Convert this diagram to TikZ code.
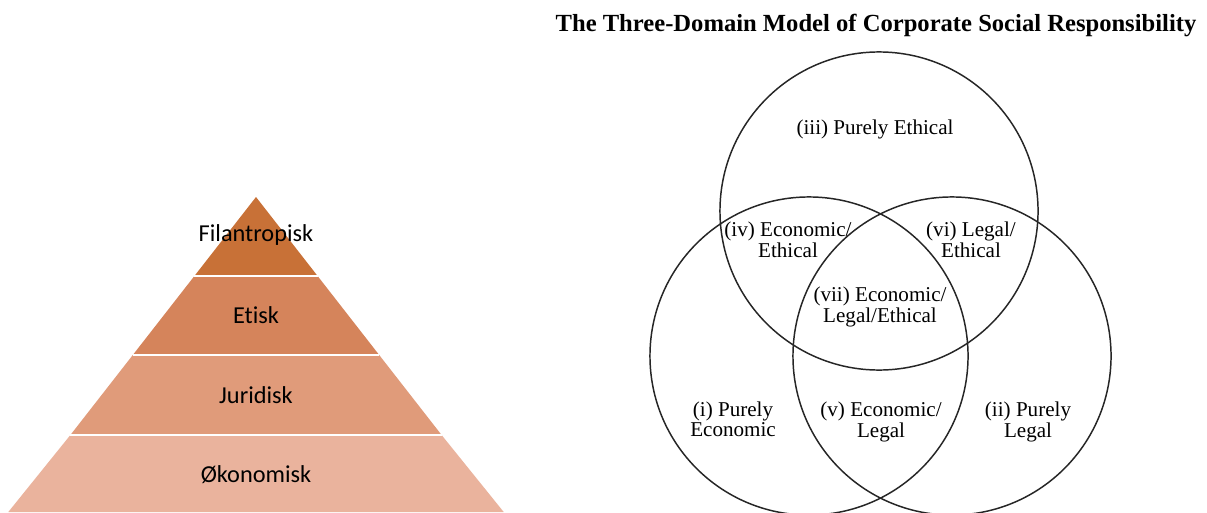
\documentclass[tikz,border=0pt]{standalone}
\usepackage{fontspec}
\setmainfont{Liberation Serif}
\newfontfamily\calfont[Ligatures=NoCommon]{Carlito}
\definecolor{Cfil}{RGB}{200,113,55}
\definecolor{Cet}{RGB}{213,132,91}
\definecolor{Cjur}{RGB}{224,155,122}
\definecolor{Cok}{RGB}{234,179,157}

\tikzset{
  layer/.style={font=\calfont\fontsize{17.3}{20}\selectfont, text=black, inner sep=0pt},
  region/.style={font=\fontsize{15}{13}\selectfont, align=center, inner sep=0pt},
  ring/.style={draw=black!85, line width=1.05pt},
}

\begin{document}
\begin{tikzpicture}[x=0.025cm, y=-0.025cm]
		\useasboundingbox (0,0) rectangle (1207,512);
		\fill[white] (0,0) rectangle (1207,512);
		
		%% ── pyramid (left) ─────────────────────────────────────────────────
		%% half-width grows 0.78 per unit below the apex at (256,197)
		\fill[Cfil] (256,197) -- (317.6,276) -- (194.4,276) -- cycle;
		\fill[Cet]  (194.4,276) -- (317.6,276) -- (379.2,355) -- (132.8,355) -- cycle;
		\fill[Cjur] (132.8,355) -- (379.2,355) -- (441.6,435) -- (70.4,435) -- cycle;
		\fill[Cok]  (70.4,435) -- (441.6,435) -- (503.7,512) -- (8.3,512) -- cycle;
		
		%% white seams between the layers
		\foreach \y/\h in {276/61.6, 355/123.2, 435/185.6}
		\draw[white, line width=1.2pt] (256-\h,\y) -- (256+\h,\y);
		
		\node[layer] (fil) at (256,235) {Filantropisk};
		\node[layer] (eti) at (256,315) {Etisk};
		\node[layer] (jur) at (256,395) {Juridisk};
		\node[layer] (oko) at (256,475) {Økonomisk};
		
		%% ── three-domain Venn diagram (right) ──────────────────────────────
		\node[font=\bfseries\fontsize{17.5}{20}\selectfont, inner sep=0pt] (title) at (876,25)
		{The Three-Domain Model of Corporate Social Responsibility};
		
		\coordinate (eth) at (879,211);
		\coordinate (eco) at (809,356);
		\coordinate (leg) at (952,356);
		
		\draw[ring] (eth) circle (3.975cm);
		\draw[ring] (eco) circle (3.975cm);
		\draw[ring] (leg) circle (3.975cm);
		
		\node[region] (r3) at (875,129) {(iii) Purely Ethical};
		\node[region] (r4) at (788,240) {(iv) Economic/\\Ethical};
		\node[region] (r6) at (971,240) {(vi) Legal/\\Ethical};
		\node[region] (r7) at (880,307) {(vii) Economic/\\Legal/Ethical};
		\node[region] (r1) at (733,419) {(i) Purely\\Economic};
		%% "Legal" has a descender, so these two sit a little lower
		\node[region] (r5) at (881,422) {(v) Economic/\\Legal};
		\node[region] (r2) at (1028,422) {(ii) Purely\\Legal};
		
	\end{tikzpicture}
\end{document}
